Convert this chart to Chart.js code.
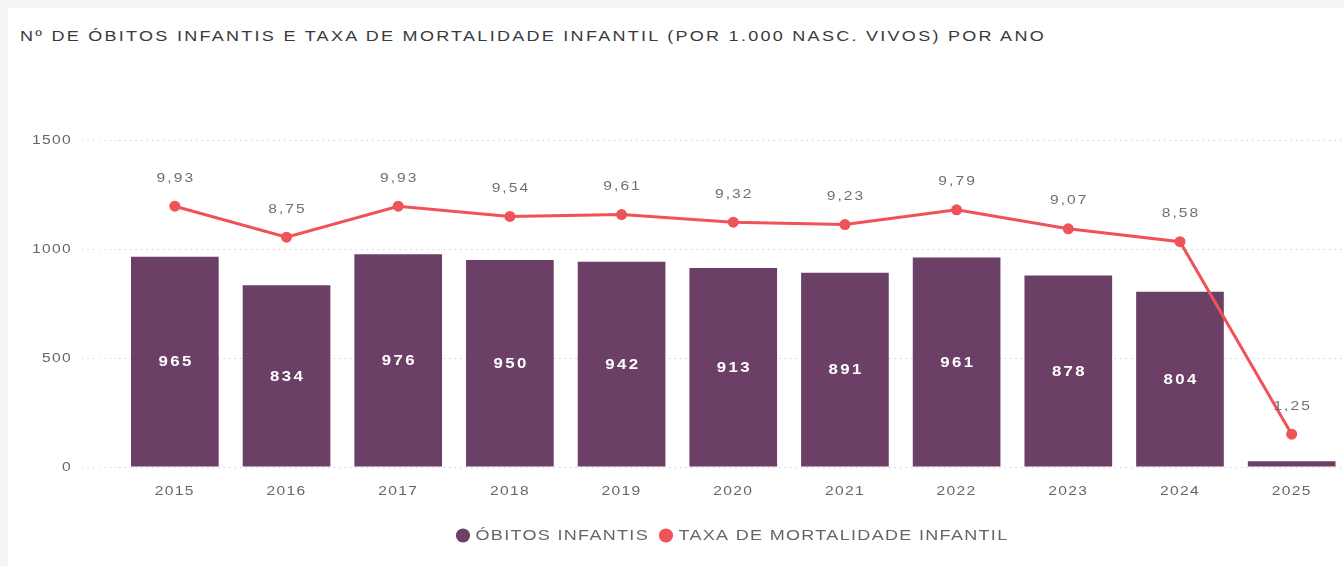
<!DOCTYPE html>
<html>
<head>
<meta charset="utf-8">
<script src="https://cdn.jsdelivr.net/npm/chart.js@4.4.1/dist/chart.umd.min.js"></script>
<style>
  html, body { margin: 0; padding: 0; background: #f3f4f6; width: 1344px; height: 566px; overflow: hidden; }
  #card { position: absolute; left: 8px; top: 8px; width: 1336px; height: 558px; background: #ffffff; overflow: hidden; }
  #title { position: absolute; left: 12px; top: 19px; font-family: "Liberation Sans", Arial, sans-serif; font-size: 15px; letter-spacing: 1.9px; color: #3a3a3a; white-space: nowrap; transform: scaleX(1.2); transform-origin: 0 0; }
  #wrap { position: absolute; left: 0; top: 0; width: 1345px; height: 558px; }
</style>
</head>
<body>
<div id="card">
  <div id="title">Nº DE ÓBITOS INFANTIS E TAXA DE MORTALIDADE INFANTIL (POR 1.000 NASC. VIVOS) POR ANO</div>
  <div id="wrap"><canvas id="c"></canvas></div>
</div>
<script>
const years = ['2015','2016','2017','2018','2019','2020','2021','2022','2023','2024','2025'];
const obitos = [965, 834, 976, 950, 942, 913, 891, 961, 878, 804, 26];
const taxa = [9.93, 8.75, 9.93, 9.54, 9.61, 9.32, 9.23, 9.79, 9.07, 8.58, 1.25];
const yTicks = [0, 500, 1000, 1500];
const seriesNames = ['ÓBITOS INFANTIS', 'TAXA DE MORTALIDADE INFANTIL'];

const barColor = '#6b3f66';
const lineColor = '#ef5257';
const fontFam = '"Liberation Sans", Arial, sans-serif';
const STRETCH = 1.2;
const SPACING = '1.1px';

// Widen canvas text horizontally (the reference's text is rendered wide)
const canvas = document.getElementById('c');
const ctx0 = canvas.getContext('2d');
const origFill = ctx0.fillText.bind(ctx0);
const origMeasure = ctx0.measureText.bind(ctx0);
ctx0.fillText = function (text, x, y, maxWidth) {
  this.save();
  this.translate(x, y);
  this.scale(STRETCH, 1);
  if (maxWidth !== undefined) origFill(text, 0, 0, maxWidth / STRETCH);
  else origFill(text, 0, 0);
  this.restore();
};
ctx0.measureText = function (text) {
  const m = origMeasure(text);
  return {
    width: m.width * STRETCH,
    actualBoundingBoxAscent: m.actualBoundingBoxAscent,
    actualBoundingBoxDescent: m.actualBoundingBoxDescent,
    actualBoundingBoxLeft: m.actualBoundingBoxLeft * STRETCH,
    actualBoundingBoxRight: m.actualBoundingBoxRight * STRETCH,
    fontBoundingBoxAscent: m.fontBoundingBoxAscent,
    fontBoundingBoxDescent: m.fontBoundingBoxDescent
  };
};

const spacingPlugin = {
  id: 'spacing',
  beforeLayout(chart) { chart.ctx.letterSpacing = SPACING; },
  beforeDraw(chart) { chart.ctx.letterSpacing = SPACING; }
};

const labelPlugin = {
  id: 'valueLabels',
  afterDatasetsDraw(chart) {
    const ctx = chart.ctx;
    ctx.save();
    ctx.textAlign = 'center';
    ctx.textBaseline = 'middle';
    // bar labels
    ctx.letterSpacing = '2px';
    ctx.font = 'bold 14px ' + fontFam;
    ctx.fillStyle = '#ffffff';
    const barMeta = chart.getDatasetMeta(0);
    barMeta.data.forEach((el, i) => {
      const h = el.base - el.y;
      if (h < 20) return;
      ctx.fillText(String(obitos[i]), el.x + 1.2, (el.y + el.base) / 2 + 1);
    });
    // line labels
    ctx.letterSpacing = '1.7px';
    ctx.font = '13px ' + fontFam;
    ctx.fillStyle = '#707070';
    const lineMeta = chart.getDatasetMeta(1);
    lineMeta.data.forEach((el, i) => {
      ctx.fillText(taxa[i].toFixed(2).replace('.', ','), el.x + 1, el.y - 28);
    });
    ctx.restore();
  }
};

new Chart(canvas, {
  data: {
    labels: years,
    datasets: [
      {
        type: 'bar',
        label: seriesNames[0],
        data: obitos,
        backgroundColor: barColor,
        borderWidth: 0,
        yAxisID: 'y',
        order: 1,
        categoryPercentage: 1,
        barPercentage: 0.785
      },
      {
        type: 'line',
        label: seriesNames[1],
        data: taxa,
        borderColor: lineColor,
        backgroundColor: lineColor,
        borderWidth: 3,
        pointRadius: 5.5,
        pointBackgroundColor: lineColor,
        pointBorderWidth: 0,
        yAxisID: 'y1',
        order: 0,
        tension: 0
      }
    ]
  },
  options: {
    responsive: true,
    maintainAspectRatio: false,
    animation: false,
    layout: { padding: { top: 132, right: 0, left: 0, bottom: 13 } },
    plugins: {
      tooltip: { enabled: false },
      title: { display: false },
      legend: {
        display: true,
        position: 'bottom',
        fullSize: false,
        labels: {
          usePointStyle: true,
          pointStyle: 'circle',
          boxWidth: 10,
          boxHeight: 10,
          padding: 12,
          color: '#666',
          font: { family: fontFam, size: 15 },
          sort: (a, b) => a.datasetIndex - b.datasetIndex
        }
      }
    },
    scales: {
      x: {
        grid: { display: false, drawTicks: false },
        border: { display: false },
        ticks: { color: '#666', font: { family: fontFam, size: 13 }, padding: 17, maxRotation: 0 },
        afterFit(scale) { scale.height = 49; }
      },
      y: {
        position: 'left',
        min: 0,
        max: 1500,
        afterBuildTicks(scale) { scale.ticks = yTicks.map(v => ({ value: v })); },
        afterFit(scale) { scale.width = 111; },
        grid: {
          color: '#cfcfcf',
          lineWidth: 1,
          drawTicks: true,
          tickLength: 37,
          tickColor: '#e2e2e2',
          tickBorderDash: [1.5, 4]
        },
        border: { display: false, dash: [1.5, 4] },
        ticks: {
          color: '#666',
          font: { family: fontFam, size: 13 },
          padding: 10,
          callback: (v) => String(v)
        }
      },
      y1: {
        display: false,
        min: 0,
        max: 12.45
      }
    }
  },
  plugins: [spacingPlugin, labelPlugin]
});
</script>
</body>
</html>
